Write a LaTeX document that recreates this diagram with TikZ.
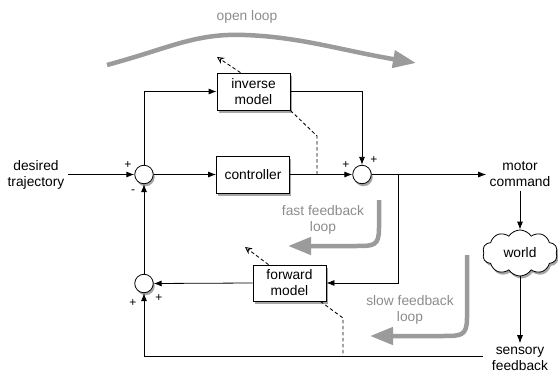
\documentclass[tikz,border=0pt]{standalone}
\usepackage{fontspec}
\setmainfont{Liberation Sans}
\usetikzlibrary{arrows.meta,shapes.symbols,shadows}
\definecolor{loopgrey}{RGB}{155,155,155}
\definecolor{labelgrey}{RGB}{140,140,140}
\tikzset{
  shd/.style={drop shadow={shadow xshift=1.5pt,shadow yshift=-2.5pt,opacity=.35,fill=black}},
  blockbox/.style={draw,line width=0.8pt,fill=white,shd,minimum width=73pt,minimum height=37pt,align=center,inner sep=1pt,font=\fontsize{13.8}{16}\selectfont},
  sumnode/.style={circle,draw,line width=0.8pt,fill=white,shd,minimum size=18.5pt,inner sep=0pt},
  lbl/.style={align=center,font=\fontsize{13.8}{16}\selectfont},
  glbl/.style={align=center,text=labelgrey,font=\fontsize{13.8}{16}\selectfont},
  sgn/.style={font=\fontsize{12}{12}\selectfont,inner sep=0pt},
  arr/.style={line width=0.8pt,-{Latex[length=8pt,width=6pt]}},
  dashline/.style={line width=0.85pt,dash pattern=on 3.5pt off 2.5pt},
  dasharr/.style={line width=0.85pt,dash pattern=on 3.5pt off 2.5pt,-{Stealth[open,length=7pt,width=7pt]}},
  bigarr/.style={line width=4.5pt,draw=loopgrey,-{Triangle[length=23pt,width=17pt]}},
}
\begin{document}
\begin{tikzpicture}[x=1pt,y=-1pt]
\useasboundingbox (0,0) rectangle (558,372);
% blocks
\node[blockbox] (inv) at (253.5,91.5) {inverse\\model};
\node[blockbox] (ctrl) at (253,174.5) {controller};
\node[blockbox,minimum height=36pt] (fwd) at (289.5,283) {forward\\model};
\node[sumnode] (s1) at (144,174.5) {};
\node[sumnode] (s2) at (362,174.5) {};
\node[sumnode] (s3) at (144,283.5) {};
\node[cloud,cloud puffs=10,cloud puff arc=115,aspect=1.7,draw,line width=0.8pt,fill=white,shd,minimum width=75pt,minimum height=46pt,inner sep=0pt,font=\fontsize{13.8}{16}\selectfont] (world) at (520,253) {world};
% texts
\node[lbl] (des) at (36,174.5) {desired\\trajectory};
\node[lbl] (mot) at (520,174.5) {motor\\command};
\node[lbl] (sens) at (520,358.5) {sensory\\feedback};
\node[glbl] (ol) at (247,17) {open loop};
\node[glbl] (ffl) at (323,220) {fast feedback\\loop};
\node[glbl] (sfl) at (410,310) {slow feedback\\loop};
% signs
\node[sgn] (p1) at (128,165) {+};
\node[sgn] (m1) at (133,192) {-};
\node[sgn] (p2) at (346,165) {+};
\node[sgn] (p3) at (374,160) {+};
\node[sgn] (p4) at (133,303) {+};
\node[sgn] (p5) at (159,298) {+};
% coordinates
\coordinate (br) at (398,174.5);
\coordinate (fb) at (483,356);
\coordinate (d1) at (317,136);
\coordinate (d2) at (317,174.5);
\coordinate (d3) at (343,318);
\coordinate (d4) at (343,356);
\coordinate (invdash) at (217,57);
\coordinate (fwddash) at (245,247);
% connectors
\draw[arr] (des.east) -- (s1.west);
\draw[arr] (s1.east) -- (ctrl.west);
\draw[arr] (ctrl.east) -- (s2.west);
\draw[arr] (s1.north) |- (inv.west);
\draw[arr] (inv.east) -| (s2.north);
\draw[arr] (s2.east) -- (mot.west);
\draw[arr] (br) |- (fwd.east);
\draw[arr] (fwd.west) -- (s3.east);
\draw[arr] (s3.north) -- (s1.south);
\draw[arr] (mot.south) -- (world.north);
\draw[arr] (world.south) -- (sens.north);
\draw[arr] (fb) -| (s3.south);
% dashed
\draw[dashline] (inv.south east) -- (d1) -- (d2);
\draw[dashline] ([xshift=-6pt]fwd.south east) -- (d3) -- (d4);
\draw[dasharr] ([xshift=-13pt]inv.north) -- (invdash);
\draw[dasharr] ([xshift=-21pt]fwd.north) -- (fwddash);
% big grey loop arrows
\draw[bigarr] (107,65) .. controls (170,48) and (195,33) .. (245,35) .. controls (300,37) and (340,50) .. (416,63);
\draw[bigarr] (379,200) -- (379,228) .. controls (379,246) and (374,246) .. (356,246) -- (288,246);
\draw[bigarr] (467,255) -- (467,318) .. controls (467,336) and (461,336) .. (443,336) -- (370,336);
\end{tikzpicture}
\end{document}
